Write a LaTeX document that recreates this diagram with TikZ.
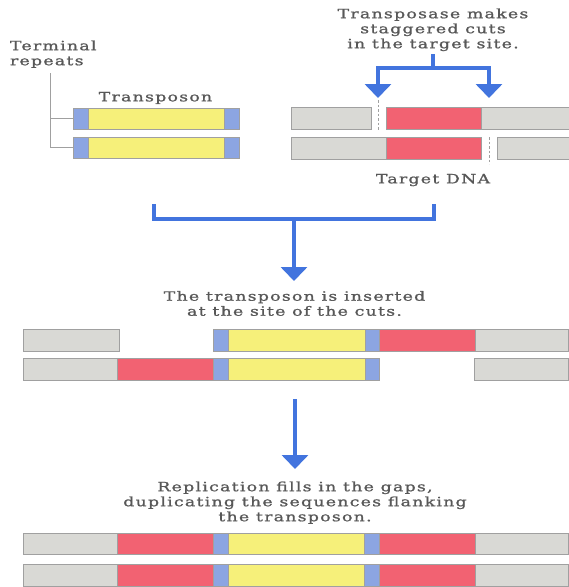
\documentclass[tikz,border=0pt]{standalone}
\usepackage{fontspec}
\usetikzlibrary{arrows.meta}
\newfontfamily\figfont{DejaVu Serif}[FakeStretch=1.35,LetterSpace=10,FakeBold=1.2]
\definecolor{dnagray}{RGB}{217,217,213}
\definecolor{edgegray}{RGB}{160,160,160}
\definecolor{sitered}{RGB}{242,98,114}
\definecolor{tnyellow}{RGB}{246,240,122}
\definecolor{irblue}{RGB}{140,165,226}
\definecolor{arrowblue}{RGB}{66,116,222}
\definecolor{textgray}{RGB}{88,88,88}
\tikzset{
  segbox/.style={draw=edgegray,line width=0.6pt,inner sep=0pt,outer sep=0pt,anchor=north west},
  grayseg/.style={segbox,fill=dnagray},
  redseg/.style={segbox,fill=sitered},
  yellowseg/.style={segbox,fill=tnyellow},
  blueseg/.style={segbox,fill=irblue},
  caption/.style={inner sep=0pt,outer sep=0pt,text=textgray,align=center,
    font=\figfont\fontsize{12.8}{15}\selectfont},
  bline/.style={draw=arrowblue,line width=3.5pt,line join=miter},
  barrow/.style={bline,-{Triangle[width=26pt,length=14pt]}},
  cutline/.style={draw=edgegray,line width=0.7pt,dash pattern=on 2.5pt off 2pt},
  repline/.style={draw=edgegray,line width=0.6pt}
}
% segment: name, x, y (top), width, height, style
\newcommand\seg[6]{\node[#6,minimum width=#4pt,minimum height=#5pt] (#1) at (#2,#3) {};}
\begin{document}
\begin{tikzpicture}[x=1pt,y=-1pt]
\useasboundingbox (0,0) rectangle (569,587);

% ---- transposon (top left)
\seg{ta1}{73}{108}{15}{21}{blueseg}
\seg{ty1}{88}{108}{136}{21}{yellowseg}
\seg{tb1}{224}{108}{15}{21}{blueseg}
\seg{ta2}{73}{137}{15}{21}{blueseg}
\seg{ty2}{88}{137}{136}{21}{yellowseg}
\seg{tb2}{224}{137}{15}{21}{blueseg}
\node[caption,anchor=north] (tnlabel) at (155.5,92) {Transposon};
\node[caption,anchor=north west,align=left] (trlabel) at (10,40.5) {Terminal\\repeats};
\coordinate (rtop) at (50,73);
\coordinate (rmid) at (50,118.5);
\coordinate (rbot) at (50,147.5);
\draw[repline] (rtop) -- (rbot) -- (ta2.west);
\draw[repline] (rmid) -- (ta1.west);

% ---- target DNA (top right)
\seg{g1a}{291}{107}{80}{22}{grayseg}
\seg{r1}{386}{107}{95}{22}{redseg}
\seg{g1b}{481}{107}{88}{22}{grayseg}
\seg{g2a}{291}{137}{95}{22}{grayseg}
\seg{r2}{386}{137}{95}{22}{redseg}
\seg{g2b}{497}{137}{72}{22}{grayseg}
\coordinate (cut1t) at (378,100);
\coordinate (cut1b) at (378,130);
\coordinate (cut2t) at (489,137);
\coordinate (cut2b) at (489,164);
\draw[cutline] (cut1t) -- (cut1b);
\draw[cutline] (cut2t) -- (cut2b);
\node[caption,anchor=north] (tplabel) at (433,8.5) {Transposase makes\\staggered cuts\\in the target site.};
\node[caption,anchor=north] (tdlabel) at (433,174) {Target DNA};
\coordinate (sp0) at (433,54);
\coordinate (sp1) at (433,68);
\coordinate (tipL) at (378,98);
\coordinate (tipR) at (489,98);
\draw[barrow] (sp0) -- (sp1) -| (tipL);
\draw[barrow] (sp1) -| (tipR);

% ---- joining bracket
\coordinate (bl) at (154,204);
\coordinate (br) at (434,204);
\coordinate (bm) at (294,219);
\coordinate (btip) at (294,281);
\draw[bline] (bl) |- (bm) -| (br);
\draw[barrow] (bm) -- (btip);

% ---- insertion
\node[caption,anchor=north] (inlabel) at (294.5,291) {The transposon is inserted\\at the site of the cuts.};
\seg{m1g}{23}{329}{96}{22}{grayseg}
\seg{m1a}{213}{329}{15}{22}{blueseg}
\seg{m1y}{228}{329}{137}{22}{yellowseg}
\seg{m1b}{365}{329}{14}{22}{blueseg}
\seg{m1r}{379}{329}{96}{22}{redseg}
\seg{m1h}{475}{329}{93}{22}{grayseg}
\seg{m2g}{23}{358}{94}{22}{grayseg}
\seg{m2r}{117}{358}{96}{22}{redseg}
\seg{m2a}{213}{358}{15}{22}{blueseg}
\seg{m2y}{228}{358}{137}{22}{yellowseg}
\seg{m2b}{365}{358}{14}{22}{blueseg}
\seg{m2h}{474}{358}{94}{22}{grayseg}
\coordinate (a3s) at (295,399);
\coordinate (a3t) at (295,469);
\draw[barrow] (a3s) -- (a3t);

% ---- after replication
\node[caption,anchor=north] (replabel) at (295,481.5) {Replication fills in the gaps,\\duplicating the sequences flanking\\the transposon.};
\seg{f1g}{23}{533}{94}{21}{grayseg}
\seg{f1r}{117}{533}{96}{21}{redseg}
\seg{f1a}{213}{533}{15}{21}{blueseg}
\seg{f1y}{228}{533}{136}{21}{yellowseg}
\seg{f1b}{364}{533}{15}{21}{blueseg}
\seg{f1s}{379}{533}{96}{21}{redseg}
\seg{f1h}{475}{533}{93}{21}{grayseg}
\seg{f2g}{23}{564}{94}{22}{grayseg}
\seg{f2r}{117}{564}{96}{22}{redseg}
\seg{f2a}{213}{564}{15}{22}{blueseg}
\seg{f2y}{228}{564}{136}{22}{yellowseg}
\seg{f2b}{364}{564}{15}{22}{blueseg}
\seg{f2s}{379}{564}{96}{22}{redseg}
\seg{f2h}{475}{564}{93}{22}{grayseg}
\end{tikzpicture}
\end{document}
